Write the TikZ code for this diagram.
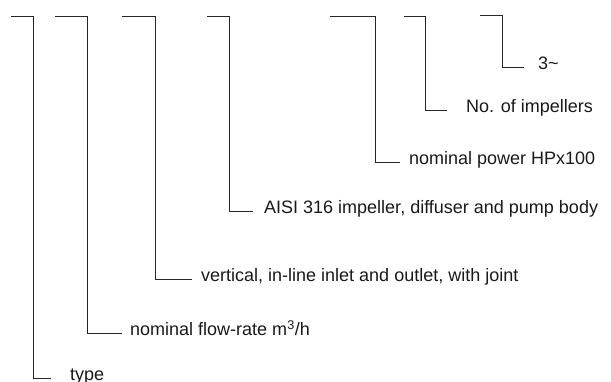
\documentclass[tikz,border=0pt]{standalone}
\usepackage{fontspec}
\setmainfont{Liberation Sans}
\begin{document}
\begin{tikzpicture}[x=1pt,y=-1pt,
  bracket/.style={draw=black!85,line width=0.9pt},
  lbl/.style={anchor=mid west,inner sep=0pt,font=\fontsize{18}{20}\selectfont,text=black!90}]
\useasboundingbox (0,0) rectangle (611,382);
% bracket 1
\coordinate (t1) at (11,16); \coordinate (c1) at (33,16); \coordinate (b1) at (33,378); \coordinate (e1) at (51,378);
\node[lbl] (l1) at (70,378) {type};
% bracket 2
\coordinate (t2) at (55,16); \coordinate (c2) at (87,16); \coordinate (b2) at (87,333); \coordinate (e2) at (122,333);
\node[lbl] (l2) at (130,333) {nominal flow-rate m\textsuperscript{3}/h};
% bracket 3
\coordinate (t3) at (122,16); \coordinate (c3) at (155,16); \coordinate (b3) at (155,279); \coordinate (e3) at (192,279);
\node[lbl] (l3) at (201,279) {vertical, in-line inlet and outlet, with joint};
% bracket 4
\coordinate (t4) at (207,16); \coordinate (c4) at (229,16); \coordinate (b4) at (229,211); \coordinate (e4) at (253,211);
\node[lbl] (l4) at (264,211) {AISI 316 impeller, diffuser and pump body};
% bracket 5
\coordinate (t5) at (330,16); \coordinate (c5) at (375,16); \coordinate (b5) at (375,162); \coordinate (e5) at (400,162);
\node[lbl] (l5) at (409,162) {nominal power HPx100};
% bracket 6
\coordinate (t6) at (404,16); \coordinate (c6) at (425,16); \coordinate (b6) at (425,110); \coordinate (e6) at (447,110);
\node[lbl] (l6) at (466,110) {No. of impellers};
% bracket 7
\coordinate (t7) at (480,15); \coordinate (c7) at (502,15); \coordinate (b7) at (502,67); \coordinate (e7) at (524,67);
\node[lbl] (l7) at (538,67) {3\textasciitilde};
\foreach \i in {1,...,7}{
  \draw[bracket] (t\i) -- (c\i) -- (b\i) -- (e\i);
}
\end{tikzpicture}
\end{document}
